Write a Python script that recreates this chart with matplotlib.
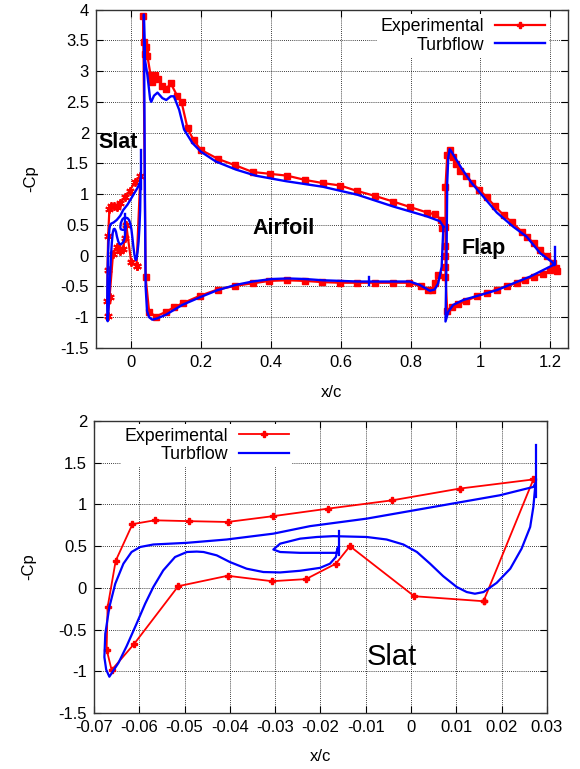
import matplotlib
matplotlib.use("Agg")
import matplotlib.pyplot as plt
from matplotlib.ticker import MultipleLocator, FormatStrFormatter

plt.rcParams['font.family'] = ['Liberation Sans', 'DejaVu Sans']
plt.rcParams['axes.unicode_minus'] = False

# --- Slat: experimental (x/c, -Cp) ---
slat_exp_x = [0.016, 0.0007, -0.0135, -0.0166, -0.0232, -0.0307, -0.0405, -0.0514,
              -0.0611, -0.0661, -0.0672, -0.0670, -0.0652, -0.0615, -0.0566, -0.0491,
              -0.0405, -0.0304, -0.0183, -0.0041, 0.0107, 0.027, 0.016]
slat_exp_cp = [-0.16, -0.10, 0.50, 0.29, 0.105, 0.08, 0.145, 0.02,
               -0.67, -0.985, -0.74, -0.235, 0.325, 0.764, 0.81, 0.80,
               0.79, 0.86, 0.95, 1.05, 1.19, 1.30, -0.16]

# --- Slat: Turbflow ---
slat_cfd_x = [0.0274, 0.027, 0.0196, 0.0049, -0.0098, -0.0223, -0.0304, -0.0407,
              -0.0495, -0.0569, -0.0598, -0.0617, -0.0635, -0.0653, -0.0666, -0.0675,
              -0.0677, -0.0673, -0.0666, -0.0646, -0.0628, -0.0606, -0.0587, -0.0569,
              -0.0547, -0.0521, -0.0495, -0.0473, -0.0458, -0.0429, -0.0400, -0.0363,
              -0.0326, -0.0289, -0.0245, -0.0201, -0.0179, -0.0166, -0.0161,
              -0.0165, -0.0200, -0.0245, -0.0289, -0.0304, -0.0289, -0.0245, -0.0208,
              -0.0172, -0.0098, -0.0054, -0.0017, 0.0013, 0.0042, 0.0071, 0.0101,
              0.0123, 0.0141, 0.0160, 0.0189, 0.0219, 0.0244, 0.0263, 0.0270, 0.0274]
slat_cfd_cp = [1.25, 1.21, 1.11, 0.97, 0.83, 0.74, 0.65, 0.58,
               0.54, 0.52, 0.49, 0.43, 0.29, 0.05, -0.23, -0.55,
               -0.83, -0.98, -1.065, -0.90, -0.70, -0.43, -0.19, 0.01,
               0.21, 0.37, 0.43, 0.435, 0.43, 0.39, 0.31, 0.23,
               0.19, 0.185, 0.205, 0.24, 0.29, 0.37, 0.49,
               0.42, 0.42, 0.42, 0.43, 0.46, 0.53, 0.59, 0.61,
               0.62, 0.61, 0.58, 0.52, 0.43, 0.29, 0.14, 0.01,
               -0.05, -0.07, -0.05, 0.06, 0.23, 0.47, 0.73, 0.97, 1.21]
slat_spike_x = [0.0276, 0.0276]
slat_spike_cp = [1.09, 1.71]
cove_spike_x = [-0.0159, -0.0159]
cove_spike_cp = [0.39, 0.68]

# --- Main element: experimental ---
main_exp_x = [0.879, 0.869, 0.862, 0.849, 0.83, 0.796, 0.75, 0.699, 0.648, 0.599,
              0.548, 0.498, 0.447, 0.396, 0.348, 0.298, 0.248, 0.198, 0.149, 0.123,
              0.101, 0.071, 0.052, 0.042, 0.035, 0.037, 0.039, 0.044, 0.047, 0.056,
              0.061, 0.068, 0.078, 0.090, 0.101, 0.114, 0.133, 0.145, 0.162, 0.179,
              0.200, 0.250, 0.298, 0.348, 0.398, 0.447, 0.499, 0.549, 0.599, 0.648,
              0.699, 0.750, 0.799, 0.848, 0.871, 0.888, 0.891]
main_exp_cp = [-0.31, -0.45, -0.56, -0.56, -0.50, -0.44, -0.44, -0.44, -0.44, -0.44,
               -0.43, -0.41, -0.40, -0.41, -0.45, -0.49, -0.55, -0.65, -0.77, -0.84,
               -0.91, -0.99, -0.91, -0.35, 3.90, 3.47, 3.28, 3.39, 3.25, 2.94,
               2.83, 2.94, 2.87, 2.76, 2.71, 2.80, 2.59, 2.49, 2.07, 1.88,
               1.72, 1.57, 1.47, 1.36, 1.33, 1.30, 1.23, 1.18, 1.14, 1.05,
               0.97, 0.88, 0.79, 0.70, 0.67, 0.58, 0.45]

# --- Main element: Turbflow ---
main_cfd_x = [0.894, 0.889, 0.879, 0.869, 0.855, 0.826, 0.798, 0.75, 0.70, 0.648,
              0.60, 0.549, 0.50, 0.449, 0.401, 0.348, 0.300, 0.248, 0.200, 0.147,
              0.10, 0.075, 0.061, 0.052, 0.046, 0.042, 0.040, 0.038, 0.037, 0.040,
              0.047, 0.055, 0.058, 0.066, 0.076, 0.09, 0.101, 0.114, 0.123, 0.138,
              0.152, 0.176, 0.200, 0.243, 0.300, 0.357, 0.444, 0.549, 0.648, 0.75,
              0.846, 0.884, 0.894]
main_cfd_cp = [0.47, -0.18, -0.45, -0.55, -0.57, -0.475, -0.42, -0.42, -0.42, -0.42,
               -0.41, -0.40, -0.38, -0.37, -0.38, -0.42, -0.475, -0.56, -0.67, -0.80,
               -0.96, -1.02, -1.04, -1.0, -0.90, -0.5, 1.0, 3.0, 3.92, 3.19,
               2.94, 2.54, 2.50, 2.60, 2.65, 2.56, 2.53, 2.59, 2.59, 2.37,
               2.05, 1.83, 1.69, 1.53, 1.40, 1.30, 1.21, 1.12, 0.99, 0.80,
               0.64, 0.56, 0.47]
tick_x = [0.681, 0.681]
tick_cp = [-0.35, -0.47]

# --- Flap: experimental ---
flap_exp_x = [1.218, 1.20, 1.18, 1.152, 1.128, 1.104, 1.075, 1.047, 1.018, 0.99,
              0.960, 0.937, 0.918, 0.905, 0.900, 0.900, 0.900, 0.900, 0.900, 0.900,
              0.905, 0.914, 0.922, 0.930, 0.942, 0.960, 0.977, 0.997, 1.018, 1.042,
              1.066, 1.091, 1.118, 1.134, 1.152, 1.171, 1.190, 1.208, 1.217]
flap_exp_cp = [-0.25, -0.24, -0.29, -0.34, -0.39, -0.45, -0.49, -0.55, -0.60, -0.66,
               -0.73, -0.79, -0.83, -0.90, -0.35, -0.18, -0.01, 0.15, 0.46, 1.12,
               1.64, 1.72, 1.60, 1.49, 1.38, 1.30, 1.18, 1.07, 0.95, 0.80,
               0.66, 0.54, 0.39, 0.31, 0.20, 0.09, -0.01, -0.12, -0.20]

# --- Flap: Turbflow ---
flap_cfd_x = [1.209, 1.142, 1.094, 1.047, 0.999, 0.951, 0.922, 0.908, 0.900, 0.903,
              0.905, 0.908, 0.912, 0.917, 0.946, 0.975, 0.999, 1.047, 1.094, 1.132,
              1.171, 1.204, 1.212]
flap_cfd_cp = [-0.15, -0.34, -0.45, -0.56, -0.64, -0.72, -0.80, -0.91, -1.07, 0.0,
               1.2, 1.6, 1.73, 1.69, 1.42, 1.18, 1.02, 0.70, 0.47, 0.31,
               0.04, -0.10, -0.15]
te_spike_x = [1.214, 1.214]
te_spike_cp = [-0.13, 0.14]

RED = '#ff0000'
BLUE = '#0000ff'

fig = plt.figure(figsize=(5.8, 7.69), dpi=100)
ax1 = fig.add_axes([0.1655, 0.5475, 0.8135, 0.4401])
ax2 = fig.add_axes([0.162, 0.0728, 0.781, 0.3797])


def style_axes(ax):
    ax.grid(True, color='black', linestyle=(0, (1, 1.5)), linewidth=0.6)
    ax.set_axisbelow(True)
    ax.tick_params(direction='in', top=True, right=True, length=5, width=0.8,
                   labelsize=12, pad=5)
    for s in ax.spines.values():
        s.set_linewidth(1.0)
        s.set_color('#333333')


# --- Top: whole configuration ---
ax1.plot(slat_exp_x, slat_exp_cp, color=RED, lw=1.6, marker=(6, 2, 0), ms=6, mew=1.4)
ax1.plot(main_exp_x, main_exp_cp, color=RED, lw=1.6, marker='s', ms=4.6)
ax1.plot(flap_exp_x, flap_exp_cp, color=RED, lw=1.6, marker='s', ms=4.3)
ax1.plot(slat_cfd_x, slat_cfd_cp, color=BLUE, lw=1.7)
ax1.plot(slat_spike_x, slat_spike_cp, color=BLUE, lw=1.7)
ax1.plot(cove_spike_x, cove_spike_cp, color=BLUE, lw=1.7)
ax1.plot(main_cfd_x, main_cfd_cp, color=BLUE, lw=1.7)
ax1.plot(tick_x, tick_cp, color=BLUE, lw=1.7)
ax1.plot(flap_cfd_x, flap_cfd_cp, color=BLUE, lw=1.7)
ax1.plot(te_spike_x, te_spike_cp, color=BLUE, lw=1.7)

h_exp, = ax1.plot([], [], color=RED, lw=1.6, marker='P', ms=5)
h_cfd, = ax1.plot([], [], color=BLUE, lw=1.7)

ax1.set_xlim(-0.1, 1.25)
ax1.set_ylim(-1.5, 4)
ax1.yaxis.set_major_locator(MultipleLocator(0.5))
ax1.xaxis.set_major_formatter(FormatStrFormatter('%g'))
ax1.yaxis.set_major_formatter(FormatStrFormatter('%g'))
ax1.set_xticks([0, 0.2, 0.4, 0.6, 0.8, 1.0, 1.2])
style_axes(ax1)
ax1.set_xlabel('x/c', fontsize=12, labelpad=11)
ax1.set_ylabel('-Cp', fontsize=12, labelpad=16)

ax1.text(-0.093, 1.84, 'Slat', fontsize=15.5, fontweight='bold', va='center', ha='left')
ax1.text(0.436, 0.44, 'Airfoil', fontsize=15.5, fontweight='bold', va='center', ha='center')
ax1.text(0.945, 0.11, 'Flap', fontsize=15.5, fontweight='bold', va='center', ha='left')

leg1 = ax1.legend([h_exp, h_cfd], ['Experimental', 'Turbflow'], loc='upper right',
                  bbox_to_anchor=(0.978, 1.012), markerfirst=False, frameon=True,
                  fontsize=12.8, handlelength=2.8, handletextpad=0.6,
                  labelspacing=0.1, borderpad=0.2, fancybox=False)
leg1.get_frame().set_edgecolor('none')
leg1.get_frame().set_alpha(1)

# --- Bottom: slat detail ---
ax2.plot(slat_exp_x, slat_exp_cp, color=RED, lw=1.3, marker='P', ms=5,
         label='Experimental')
ax2.plot(slat_cfd_x, slat_cfd_cp, color=BLUE, lw=1.6, label='Turbflow')
ax2.plot(slat_spike_x, slat_spike_cp, color=BLUE, lw=1.6)
ax2.plot(cove_spike_x, cove_spike_cp, color=BLUE, lw=1.6)

ax2.set_xlim(-0.07, 0.03)
ax2.set_ylim(-1.5, 2)
ax2.set_xticks([-0.07, -0.06, -0.05, -0.04, -0.03, -0.02, -0.01, 0, 0.01, 0.02, 0.03])
ax2.yaxis.set_major_locator(MultipleLocator(0.5))
ax2.xaxis.set_major_formatter(FormatStrFormatter('%g'))
ax2.yaxis.set_major_formatter(FormatStrFormatter('%g'))
style_axes(ax2)
ax2.set_xlabel('x/c', fontsize=12, labelpad=10)
ax2.set_ylabel('-Cp', fontsize=12, labelpad=16)
ax2.text(-0.0042, -0.83, 'Slat', fontsize=21, va='center', ha='center')

leg2 = ax2.legend(loc='upper right', bbox_to_anchor=(0.457, 1.02), markerfirst=False,
                  fontsize=12.8, handlelength=2.8, handletextpad=0.6,
                  labelspacing=0.1, borderpad=0.2, fancybox=False)
leg2.get_frame().set_edgecolor('none')
leg2.get_frame().set_alpha(1)

fig.savefig('out.png', dpi=100)
